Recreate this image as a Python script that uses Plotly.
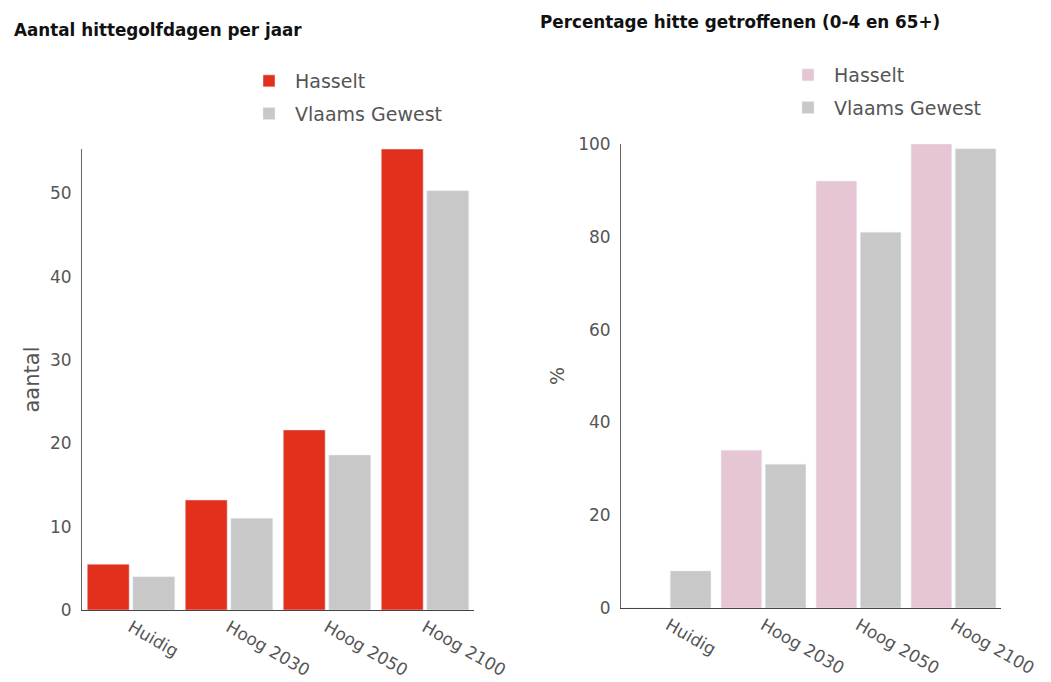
import plotly.graph_objects as go

categories = ["Huidig", "Hoog 2030", "Hoog 2050", "Hoog 2100"]

# Aantal hittegolfdagen per jaar
dagen_hasselt = [5.5, 13.2, 21.6, 55.3]
dagen_vlaanderen = [4.0, 11.0, 18.6, 50.3]

# Percentage hitte getroffenen (0-4 en 65+)
pct_hasselt = [0, 34, 92, 100]
pct_vlaanderen = [8, 31, 81, 99]

RED = "#e3301c"
PINK = "#e6c6d4"
GREY = "#c8c8c8"
TEXT = "#555555"
FONT = "DejaVu Sans"

fig = go.Figure()

fig.add_trace(go.Bar(x=categories, y=dagen_hasselt, name="Hasselt",
                     marker_color=RED, xaxis="x", yaxis="y",
                     legend="legend", legendgroup="h1"))
fig.add_trace(go.Bar(x=categories, y=dagen_vlaanderen, name="Vlaams Gewest",
                     marker_color=GREY, xaxis="x", yaxis="y",
                     legend="legend", legendgroup="v1"))
fig.add_trace(go.Bar(x=categories, y=pct_hasselt, name="Hasselt",
                     marker_color=PINK, xaxis="x2", yaxis="y2",
                     legend="legend2", legendgroup="h2"))
fig.add_trace(go.Bar(x=categories, y=pct_vlaanderen, name="Vlaams Gewest",
                     marker_color=GREY, xaxis="x2", yaxis="y2",
                     legend="legend2", legendgroup="v2"))

W, H = 1051, 682

def px_x(v):
    return v / W

def px_y(v):
    return 1 - v / H

xaxis_common = dict(
    type="category", showgrid=False, showline=True, linecolor="#444444",
    linewidth=1, tickangle=30, tickfont=dict(family=FONT, size=17, color=TEXT),
    ticks="", layer="below traces", fixedrange=True, automargin=False,
)
yaxis_common = dict(
    showgrid=False, zeroline=False, showline=True, linecolor="#666666",
    linewidth=1, ticks="", tickfont=dict(family=FONT, size=17, color=TEXT),
    ticklabelstandoff=6, fixedrange=True, automargin=False,
)

legend_common = dict(
    xanchor="left", yanchor="top", font=dict(family=FONT, size=19, color=TEXT),
    bgcolor="rgba(0,0,0,0)", tracegroupgap=5, itemwidth=42,
)

fig.update_layout(
    width=W, height=H,
    margin=dict(l=0, r=0, t=0, b=0),
    paper_bgcolor="white", plot_bgcolor="white",
    barmode="group", bargap=0.07, bargroupgap=0.08,
    font=dict(family=FONT, color=TEXT),
    xaxis=dict(domain=[px_x(82), px_x(474)], anchor="y", **xaxis_common),
    yaxis=dict(domain=[px_y(610), px_y(149)], anchor="x",
               range=[0, max(dagen_hasselt)], tickvals=[0, 10, 20, 30, 40, 50],
               title=dict(text="aantal", font=dict(family=FONT, size=21, color=TEXT),
                          standoff=4),
               **yaxis_common),
    xaxis2=dict(domain=[px_x(621), px_x(1001)], anchor="y2", **xaxis_common),
    yaxis2=dict(domain=[px_y(608), px_y(144)], anchor="x2",
                range=[0, 100], tickvals=[0, 20, 40, 60, 80, 100],
                title=dict(text="%", font=dict(family=FONT, size=19, color=TEXT),
                           standoff=8),
                **yaxis_common),
    legend=dict(x=px_x(243), y=px_y(62), **legend_common),
    legend2=dict(x=px_x(782), y=px_y(56), **legend_common),
    annotations=[
        dict(text="<b>Aantal hittegolfdagen per jaar</b>", xref="paper", yref="paper",
             x=px_x(12), y=px_y(30), xanchor="left", yanchor="middle", showarrow=False,
             font=dict(family=FONT, size=16.8, color="#111111")),
        dict(text="<b>Percentage hitte getroffenen (0-4 en 65+)</b>", xref="paper",
             yref="paper", x=px_x(538), y=px_y(22), xanchor="left", yanchor="middle",
             showarrow=False, font=dict(family=FONT, size=16.8, color="#111111")),
    ],
)

fig.write_html("out.html")
